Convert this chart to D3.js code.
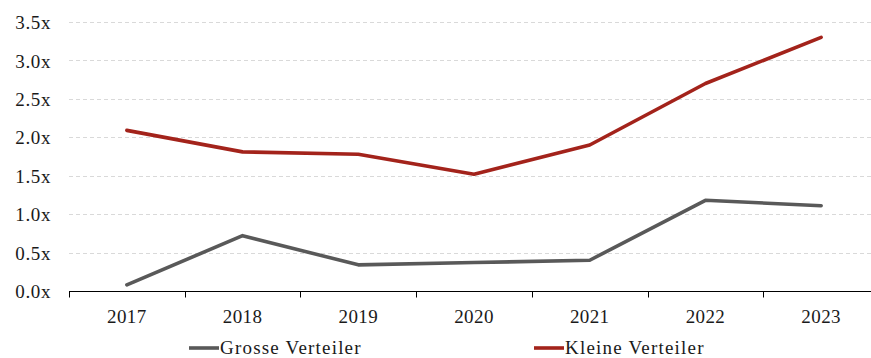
<!DOCTYPE html>
<html>
<head>
<meta charset="utf-8">
<script src="https://cdn.jsdelivr.net/npm/d3@7"></script>
<style>
  html, body { margin: 0; padding: 0; background: #fff; }
  svg text { font-family: "Liberation Serif", "DejaVu Serif", serif; fill: #1a1a1a; }
</style>
</head>
<body>
<svg id="chart" width="871" height="358"></svg>
<script>
// Multiples per year for the two distributor groups
const years = ["2017", "2018", "2019", "2020", "2021", "2022", "2023"];
const grosseVerteiler = [0.08, 0.72, 0.34, 0.37, 0.40, 1.18, 1.11];
const kleineVerteiler = [2.09, 1.81, 1.78, 1.52, 1.90, 2.70, 3.30];
const yTicks = [0, 0.5, 1.0, 1.5, 2.0, 2.5, 3.0, 3.5];
const seriesNames = ["Grosse Verteiler", "Kleine Verteiler"];
const seriesColors = ["#595959", "#A3231B"];

const svg = d3.select("#chart");
const plotLeft = 69, plotRight = 879, plotTop = 22, plotBottom = 291;

const x = d3.scaleBand().domain(years).range([plotLeft, plotRight]).padding(0);
const y = d3.scaleLinear().domain([0, 3.5]).range([plotBottom, plotTop]);

// horizontal dashed gridlines
svg.append("g")
  .selectAll("line")
  .data(yTicks.filter(d => d > 0))
  .join("line")
  .attr("x1", plotLeft).attr("x2", 871)
  .attr("y1", d => Math.round(y(d)) + 0.5).attr("y2", d => Math.round(y(d)) + 0.5)
  .attr("stroke", "#d9d9d9").attr("stroke-width", 1)
  .attr("stroke-dasharray", "4,3");

// y-axis labels
const yAxis = d3.axisLeft(y).tickValues(yTicks).tickSize(0).tickPadding(18)
  .tickFormat(d => d3.format(".1f")(d) + "x");
const gy = svg.append("g").attr("transform", `translate(${plotLeft},0)`).call(yAxis);
gy.select(".domain").remove();
gy.selectAll("text").style("font-size", "19px").style("letter-spacing", "0.6px").attr("dy", "0.35em");

// x axis: baseline, boundary ticks and centred year labels
const xAxis = d3.axisBottom(x).tickSize(0).tickPadding(18);
const gx = svg.append("g").attr("transform", `translate(0,${Math.round(plotBottom) + 0.5})`).call(xAxis);
gx.select(".domain").attr("stroke", "#000").attr("d", `M${plotLeft},0H${plotRight}`);
gx.selectAll("text").style("font-size", "19px").style("letter-spacing", "0.4px");
gx.append("g").selectAll("line")
  .data(years)
  .join("line")
  .attr("x1", d => Math.round(x(d)) + 0.5).attr("x2", d => Math.round(x(d)) + 0.5)
  .attr("y1", 0).attr("y2", 6)
  .attr("stroke", "#000");

// series lines
const line = d3.line()
  .x((d, i) => x(years[i]) + x.bandwidth() / 2)
  .y(d => y(d));

[grosseVerteiler, kleineVerteiler].forEach((vals, k) => {
  svg.append("path")
    .datum(vals)
    .attr("d", line)
    .attr("fill", "none")
    .attr("stroke", seriesColors[k])
    .attr("stroke-width", 3.6)
    .attr("stroke-linejoin", "round")
    .attr("stroke-linecap", "round");
});

// legend
const legendX = [189, 534];
const legend = svg.append("g");
seriesNames.forEach((name, k) => {
  const g = legend.append("g").attr("transform", `translate(${legendX[k]},348)`);
  g.append("line").attr("x1", 0).attr("x2", 30).attr("y1", 0).attr("y2", 0)
    .attr("stroke", seriesColors[k]).attr("stroke-width", 3.6);
  g.append("text").attr("x", 31).attr("y", 0).attr("dy", "0.32em")
    .style("font-size", "19px").style("letter-spacing", "1.2px").text(name);
});
</script>
</body>
</html>
